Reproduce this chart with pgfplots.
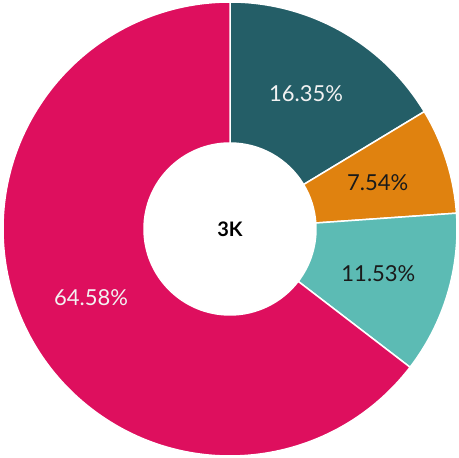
\documentclass[border=0pt]{standalone}
\usepackage{fontspec}
\setmainfont{Lato}
\usepackage{pgfplots}
\usepackage{pgfplotstable}
\pgfplotsset{compat=1.18}
\definecolor{cA}{HTML}{245E67}
\definecolor{cB}{HTML}{E0820F}
\definecolor{cC}{HTML}{5CBBB4}
\definecolor{cD}{HTML}{DE0F5E}
\definecolor{tLight}{HTML}{F2F2F2}
\definecolor{tDark}{HTML}{1A1A1A}

% share of each slice, clockwise from 12 o'clock
\pgfplotstableread{
share col tcol
16.35 cA tLight
7.54  cB tDark
11.53 cC tDark
64.58 cD tLight
}\slices

\begin{document}
\begin{tikzpicture}
\begin{axis}[
    name=ax,
    width=459bp, height=458bp, scale only axis,
    xmin=-230, xmax=229, ymin=-229, ymax=229,
    hide axis, xtick=\empty, ytick=\empty, clip=false,
]
\pgfplotstablegetrowsof{\slices}
\pgfmathtruncatemacro\N{\pgfplotsretval-1}
\def\acc{90}
\def\Ro{227}
\def\Ri{86}
\def\Rl{155}
\pgfplotsforeachungrouped \i in {0,...,\N}{
    \pgfplotstablegetelem{\i}{share}\of\slices \let\v\pgfplotsretval
    \pgfplotstablegetelem{\i}{col}\of\slices \let\c\pgfplotsretval
    \pgfplotstablegetelem{\i}{tcol}\of\slices \let\tc\pgfplotsretval
    \pgfmathsetmacro\aend{\acc-3.6*\v}
    \pgfmathsetmacro\amid{\acc-1.8*\v}
    \pgfmathsetmacro\xa{\Ro*cos(\acc)}\pgfmathsetmacro\ya{\Ro*sin(\acc)}
    \pgfmathsetmacro\xb{\Ri*cos(\aend)}\pgfmathsetmacro\yb{\Ri*sin(\aend)}
    \pgfmathsetmacro\xl{\Rl*cos(\amid)}\pgfmathsetmacro\yl{\Rl*sin(\amid)}
    \edef\slicecmd{\noexpand\fill[\c, draw=white, line width=1.5bp]
        (axis cs:\xa,\ya) arc[start angle=\acc, end angle=\aend, radius=\Ro bp]
        -- (axis cs:\xb,\yb) arc[start angle=\aend, end angle=\acc, radius=\Ri bp]
        -- cycle;
        \noexpand\node[text=\tc, font=\noexpand\fontsize{22bp}{26bp}\noexpand\selectfont]
        at (axis cs:\xl,\yl) {\v\noexpand\%};}
    \slicecmd
    \global\let\acc\aend
}
\node[font=\fontsize{20bp}{24bp}\selectfont\bfseries, text=black] at (axis cs:0,0) {3K};
\end{axis}
\pgfresetboundingbox
\path (ax.south west) rectangle (ax.north east);
\end{tikzpicture}
\end{document}
